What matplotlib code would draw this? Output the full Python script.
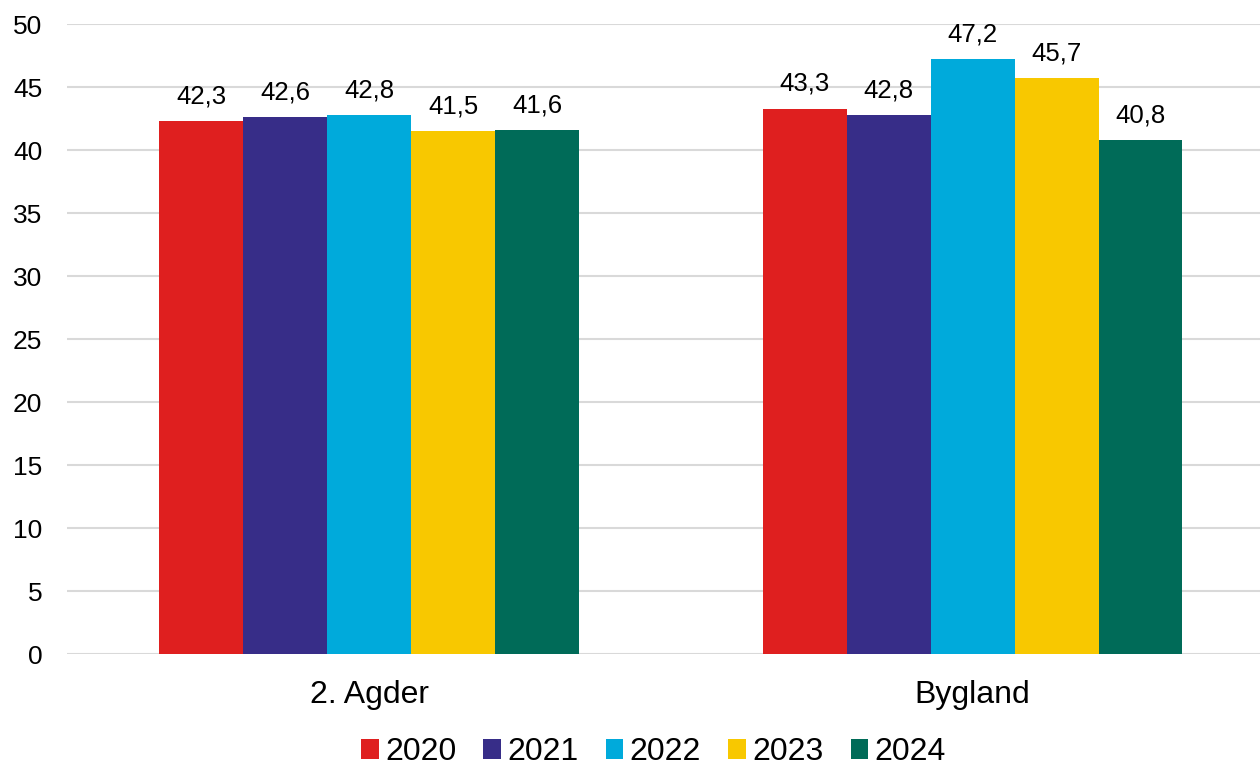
import numpy as np
import matplotlib.pyplot as plt

plt.rcParams['font.family'] = ['Liberation Sans', 'DejaVu Sans']

categories = ['2. Agder', 'Bygland']
years = ['2020', '2021', '2022', '2023', '2024']
values = {
    '2020': [42.3, 43.3],
    '2021': [42.6, 42.8],
    '2022': [42.8, 47.2],
    '2023': [41.5, 45.7],
    '2024': [41.6, 40.8],
}
colors = ['#df1f1f', '#372d88', '#00aadb', '#f8c800', '#006b58']

fig = plt.figure(figsize=(12.6, 7.65), dpi=100)
ax = fig.add_axes([0.0535, 0.145, 0.958, 0.8235])

x = np.arange(len(categories))
w = 0.139
for i, yr in enumerate(years):
    pos = x + (i - 2) * w
    bars = ax.bar(pos, values[yr], w, color=colors[i], label=yr, zorder=3)
    for b, v in zip(bars, values[yr]):
        ax.text(b.get_x() + b.get_width() / 2, v + 1.0, f'{v:.1f}'.replace('.', ','),
                ha='center', va='bottom', fontsize=18.5)

ax.set_xlim(-0.5, 1.5)
ax.set_ylim(0, 50)
ax.set_yticks(range(0, 51, 5))
ax.set_xticks(x)
ax.set_xticklabels(categories, fontsize=23)
ax.tick_params(axis='y', labelsize=19, length=0, pad=18)
ax.tick_params(axis='x', length=0, pad=19)
ax.grid(axis='y', color='#d9d9d9', linewidth=1.5, zorder=0)
for s in ax.spines.values():
    s.set_visible(False)

ax.legend(loc='upper center', bbox_to_anchor=(0.4855, -0.112), ncol=5, frameon=False,
          fontsize=23, handlelength=0.55, handleheight=0.55, handletextpad=0.2,
          columnspacing=0.85, borderaxespad=0)

fig.savefig('out.png', dpi=100)
